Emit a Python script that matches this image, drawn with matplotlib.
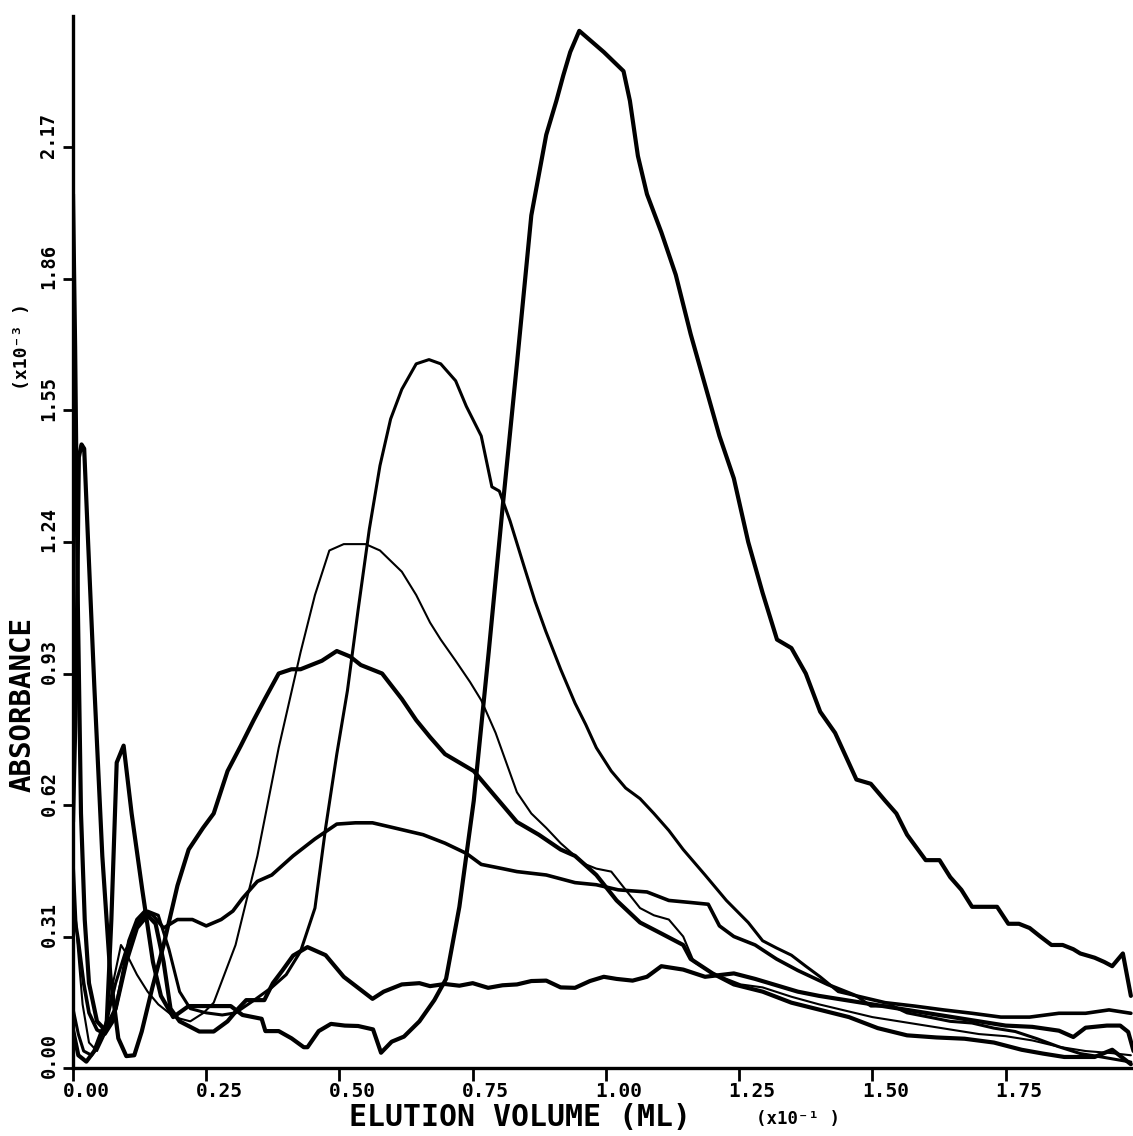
import matplotlib
matplotlib.use("Agg")
import matplotlib.pyplot as plt
import matplotlib.transforms as mtrans

# ---------------- data ----------------
x_ticks = [0.00, 0.25, 0.50, 0.75, 1.00, 1.25, 1.50, 1.75]
x_tick_labels = ["0.00", "0.25", "0.50", "0.75", "1.00", "1.25", "1.50", "1.75"]
y_ticks = [0.00, 0.31, 0.62, 0.93, 1.24, 1.55, 1.86, 2.17]
y_tick_labels = ["0.00", "0.31", "0.62", "0.93", "1.24", "1.55", "1.86", "2.17"]

# curve A : tallest peak (thick)
xA = [0.00, 0.01, 0.025, 0.04, 0.055, 0.063, 0.072, 0.082, 0.095, 0.11, 0.13, 0.15,
      0.165, 0.188, 0.217, 0.26, 0.296, 0.318, 0.354, 0.361, 0.386, 0.41, 0.433, 0.44,
      0.461, 0.484, 0.51, 0.535, 0.563, 0.578, 0.598, 0.621, 0.65, 0.678, 0.70, 0.725,
      0.752, 0.78, 0.806, 0.833, 0.86, 0.888, 0.907, 0.92, 0.933, 0.95, 0.996, 1.033,
      1.045, 1.06, 1.077, 1.104, 1.131, 1.159, 1.186, 1.213, 1.24, 1.267, 1.294, 1.321,
      1.348, 1.375, 1.402, 1.43, 1.47, 1.497, 1.524, 1.545, 1.565, 1.6, 1.626, 1.646,
      1.667, 1.687, 1.71, 1.734, 1.755, 1.775, 1.795, 1.815, 1.836, 1.857, 1.877, 1.89,
      1.917, 1.935, 1.95, 1.97, 1.985]
yA = [0.09, 0.03, 0.015, 0.04, 0.09, 0.10, 0.35, 0.72, 0.76, 0.60, 0.42, 0.25,
      0.17, 0.12, 0.146, 0.146, 0.146, 0.125, 0.116, 0.087, 0.087, 0.07, 0.049, 0.049,
      0.087, 0.104, 0.10, 0.099, 0.091, 0.036, 0.062, 0.074, 0.11, 0.16, 0.21, 0.38,
      0.63, 0.98, 1.32, 1.66, 2.01, 2.20, 2.28, 2.34, 2.395, 2.445, 2.395, 2.35,
      2.28, 2.15, 2.06, 1.97, 1.87, 1.73, 1.61, 1.49, 1.39, 1.24, 1.12, 1.01,
      0.99, 0.93, 0.84, 0.79, 0.68, 0.67, 0.63, 0.60, 0.55, 0.49, 0.49, 0.45,
      0.42, 0.38, 0.38, 0.38, 0.34, 0.34, 0.33, 0.31, 0.29, 0.29, 0.28, 0.27,
      0.26, 0.25, 0.24, 0.27, 0.17]

# curve B : peak 1.67 (medium)
xB = [0.00, 0.01, 0.02, 0.035, 0.05, 0.065, 0.08, 0.10, 0.12, 0.14, 0.16, 0.18, 0.20,
      0.22, 0.25, 0.28, 0.305, 0.34, 0.373, 0.40, 0.427, 0.454, 0.474, 0.495, 0.515,
      0.535, 0.556, 0.576, 0.596, 0.617, 0.644, 0.668, 0.69, 0.718, 0.738, 0.766, 0.786,
      0.80, 0.82, 0.847, 0.867, 0.887, 0.915, 0.942, 0.962, 0.982, 1.01, 1.037, 1.064,
      1.09, 1.118, 1.145, 1.186, 1.226, 1.267, 1.294, 1.32, 1.348, 1.375, 1.402, 1.436,
      1.47, 1.497, 1.538, 1.565, 1.606, 1.646, 1.687, 1.728, 1.768, 1.809, 1.85, 1.89,
      1.93, 1.985]
yB = [0.14, 0.08, 0.04, 0.03, 0.06, 0.12, 0.20, 0.28, 0.34, 0.37, 0.36, 0.28, 0.18,
      0.14, 0.13, 0.125, 0.13, 0.16, 0.19, 0.22, 0.275, 0.377, 0.566, 0.74, 0.89,
      1.08, 1.27, 1.42, 1.53, 1.60, 1.66, 1.67, 1.66, 1.62, 1.56, 1.49, 1.37,
      1.36, 1.29, 1.18, 1.10, 1.03, 0.94, 0.86, 0.81, 0.755, 0.70, 0.66, 0.635,
      0.60, 0.56, 0.515, 0.455, 0.395, 0.343, 0.30, 0.283, 0.266, 0.24, 0.215, 0.18,
      0.17, 0.146, 0.146, 0.13, 0.12, 0.11, 0.106, 0.094, 0.086, 0.069, 0.05, 0.034,
      0.026, 0.014]

# curve C : peak 1.24 (thin)
xC = [0.00, 0.008, 0.018, 0.03, 0.045, 0.06, 0.075, 0.09, 0.10, 0.12, 0.14, 0.16,
      0.19, 0.22, 0.245, 0.264, 0.305, 0.346, 0.386, 0.427, 0.454, 0.481, 0.508, 0.549,
      0.576, 0.617, 0.644, 0.67, 0.69, 0.718, 0.745, 0.766, 0.793, 0.813, 0.833, 0.86,
      0.888, 0.915, 0.942, 0.962, 0.982, 1.01, 1.037, 1.064, 1.09, 1.118, 1.145, 1.165,
      1.20, 1.253, 1.294, 1.348, 1.40, 1.45, 1.50, 1.55, 1.60, 1.65, 1.70, 1.75,
      1.80, 1.85, 1.90, 1.95, 1.985]
yC = [0.52, 0.30, 0.15, 0.06, 0.04, 0.08, 0.20, 0.29, 0.27, 0.22, 0.18, 0.15,
      0.12, 0.11, 0.13, 0.154, 0.29, 0.50, 0.755, 0.98, 1.115, 1.22, 1.235, 1.235,
      1.22, 1.17, 1.115, 1.05, 1.01, 0.96, 0.91, 0.867, 0.79, 0.72, 0.65, 0.60,
      0.566, 0.53, 0.50, 0.48, 0.47, 0.463, 0.42, 0.377, 0.36, 0.35, 0.31, 0.25,
      0.223, 0.197, 0.19, 0.168, 0.15, 0.135, 0.12, 0.11, 0.10, 0.09, 0.08, 0.075,
      0.065, 0.05, 0.04, 0.035, 0.03]

# curve D : peak 0.98 (thick)
xD = [0.00, 0.006, 0.011, 0.016, 0.021, 0.028, 0.04, 0.055, 0.07, 0.085, 0.10, 0.115,
      0.129, 0.149, 0.17, 0.196, 0.217, 0.244, 0.264, 0.29, 0.315, 0.339, 0.36, 0.386,
      0.41, 0.427, 0.447, 0.467, 0.495, 0.52, 0.54, 0.56, 0.58, 0.617, 0.644, 0.67,
      0.698, 0.725, 0.752, 0.779, 0.806, 0.833, 0.874, 0.915, 0.942, 0.982, 1.02, 1.064,
      1.104, 1.145, 1.159, 1.20, 1.24, 1.294, 1.348, 1.402, 1.456, 1.51, 1.565, 1.62,
      1.673, 1.728, 1.78, 1.82, 1.86, 1.917, 1.95, 1.985]
yD = [0.58, 0.90, 1.44, 1.47, 1.46, 1.25, 0.90, 0.50, 0.22, 0.07, 0.028, 0.03,
      0.086, 0.19, 0.29, 0.43, 0.515, 0.566, 0.60, 0.70, 0.76, 0.82, 0.87, 0.93,
      0.94, 0.94, 0.95, 0.96, 0.983, 0.97, 0.95, 0.94, 0.93, 0.87, 0.82, 0.78,
      0.74, 0.72, 0.70, 0.66, 0.62, 0.58, 0.55, 0.515, 0.50, 0.455, 0.395, 0.343,
      0.317, 0.29, 0.257, 0.223, 0.197, 0.18, 0.154, 0.137, 0.12, 0.094, 0.077, 0.072,
      0.069, 0.06, 0.043, 0.034, 0.026, 0.026, 0.043, 0.009]

# curve E : broad peak 0.58 (medium-thick)
xE = [0.00, 0.01, 0.02, 0.03, 0.045, 0.06, 0.075, 0.09, 0.105, 0.12, 0.135, 0.15,
      0.17, 0.196, 0.224, 0.25, 0.278, 0.30, 0.318, 0.346, 0.373, 0.413, 0.454, 0.495,
      0.53, 0.562, 0.603, 0.657, 0.698, 0.738, 0.766, 0.806, 0.833, 0.888, 0.942, 0.982,
      1.023, 1.077, 1.118, 1.16, 1.192, 1.213, 1.24, 1.28, 1.32, 1.36, 1.416, 1.47,
      1.524, 1.579, 1.633, 1.687, 1.741, 1.795, 1.85, 1.90, 1.944, 1.985]
yE = [0.38, 0.30, 0.20, 0.13, 0.09, 0.08, 0.11, 0.20, 0.30, 0.35, 0.37, 0.36,
      0.33, 0.35, 0.35, 0.335, 0.35, 0.37, 0.40, 0.44, 0.455, 0.50, 0.54, 0.575,
      0.578, 0.578, 0.566, 0.55, 0.53, 0.506, 0.48, 0.47, 0.463, 0.455, 0.437, 0.432,
      0.42, 0.415, 0.395, 0.39, 0.386, 0.335, 0.31, 0.29, 0.257, 0.23, 0.197, 0.17,
      0.154, 0.146, 0.137, 0.129, 0.12, 0.12, 0.129, 0.129, 0.137, 0.129]

# curve F : flat ~0.2 with bump 0.29 (thick)
xF = [0.00, 0.004, 0.009, 0.015, 0.022, 0.03, 0.045, 0.06, 0.08, 0.10, 0.12, 0.14,
      0.155, 0.17, 0.183, 0.20, 0.237, 0.264, 0.29, 0.31, 0.325, 0.345, 0.359, 0.375,
      0.393, 0.413, 0.44, 0.474, 0.508, 0.535, 0.562, 0.583, 0.617, 0.65, 0.67, 0.698,
      0.725, 0.75, 0.779, 0.806, 0.833, 0.86, 0.888, 0.915, 0.942, 0.97, 0.996, 1.02,
      1.05, 1.077, 1.104, 1.145, 1.186, 1.24, 1.28, 1.32, 1.36, 1.40, 1.45, 1.50,
      1.55, 1.60, 1.65, 1.70, 1.75, 1.80, 1.85, 1.877, 1.90, 1.94, 1.965, 1.98, 1.99]
yF = [2.06, 1.70, 1.10, 0.60, 0.35, 0.20, 0.11, 0.09, 0.14, 0.25, 0.33, 0.36,
      0.34, 0.25, 0.14, 0.11, 0.086, 0.086, 0.11, 0.14, 0.16, 0.16, 0.16, 0.20,
      0.23, 0.265, 0.285, 0.266, 0.215, 0.189, 0.163, 0.18, 0.197, 0.20, 0.193, 0.198,
      0.194, 0.20, 0.189, 0.195, 0.197, 0.205, 0.206, 0.19, 0.189, 0.205, 0.215, 0.21,
      0.206, 0.215, 0.24, 0.232, 0.215, 0.223, 0.21, 0.195, 0.18, 0.17, 0.16, 0.15,
      0.14, 0.13, 0.12, 0.11, 0.10, 0.097, 0.088, 0.073, 0.095, 0.10, 0.10, 0.085, 0.04]

curves = [(xA, yA, 3.0), (xB, yB, 2.2), (xC, yC, 1.5),
          (xD, yD, 3.0), (xE, yE, 2.6), (xF, yF, 3.0)]

# ---------------- figure ----------------
W, H = 1133, 1136
fig = plt.figure(figsize=(W / 100, H / 100), dpi=100)
ax = fig.add_axes([73 / W, (H - 1068) / H, (W - 73) / W, (1068 - 16) / H])

for xs, ys, lw in curves:
    ax.plot(xs, ys, color="black", lw=lw, solid_joinstyle="round",
            solid_capstyle="round")

ax.set_xlim(0, 1.989)
ax.set_ylim(0, 2.48)

for s in ("top", "right"):
    ax.spines[s].set_visible(False)
for s in ("left", "bottom"):
    ax.spines[s].set_linewidth(2.4)
    ax.spines[s].set_color("black")

mono = ["DejaVu Sans Mono", "DejaVu Sans"]

ax.set_xticks(x_ticks)
ax.set_xticklabels(x_tick_labels, fontfamily=mono, fontweight="bold", fontsize=14)
ax.set_yticks(y_ticks)
ax.set_yticklabels(y_tick_labels, fontfamily=mono, fontweight="bold", fontsize=13.5,
                   rotation=90, va="center", ha="right")
ax.tick_params(axis="x", direction="out", length=9, width=2, pad=1)
ax.tick_params(axis="y", direction="out", length=7.5, width=2, pad=3)

offx = mtrans.ScaledTranslation(0.13, 0, fig.dpi_scale_trans)
for lab in ax.get_xticklabels():
    lab.set_transform(lab.get_transform() + offx)
offy = mtrans.ScaledTranslation(0, 0.12, fig.dpi_scale_trans)
for lab in ax.get_yticklabels():
    lab.set_transform(lab.get_transform() + offy)

fig.text(520 / W, 1 - 1118 / H, "ELUTION VOLUME (ML)", ha="center", va="center",
         fontfamily=mono, fontweight="bold", fontsize=21.5)
fig.text(798 / W, 1 - 1119 / H, "(x10\u207b\u00b9 )", ha="center", va="center",
         fontfamily=mono, fontweight="bold", fontsize=12.5)
fig.text(23 / W, 1 - 704 / H, "ABSORBANCE", ha="center", va="center", rotation=90,
         fontfamily=mono, fontweight="bold", fontsize=21)
fig.text(22 / W, 1 - 346 / H, "(x10\u207b\u00b3 )", ha="center", va="center",
         rotation=90, fontfamily=mono, fontweight="bold", fontsize=13)

fig.savefig("out.png", dpi=100, facecolor="white")
